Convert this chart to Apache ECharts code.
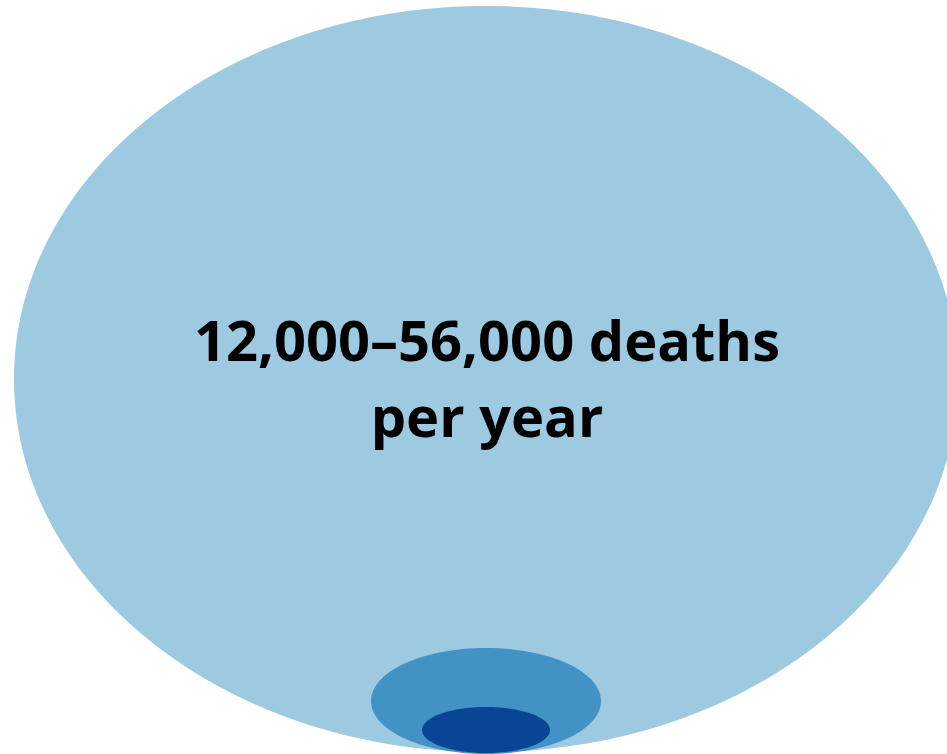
<!DOCTYPE html>
<html>
<head>
<meta charset="utf-8">
<script src="https://cdn.jsdelivr.net/npm/echarts@6/dist/echarts.min.js"></script>
<style>
  html, body { margin: 0; padding: 0; background: #ffffff; }
  #chart { width: 947px; height: 754px; }
</style>
</head>
<body>
<div id="chart"></div>
<script>
// Nested ellipses: outer range of deaths, with two smaller subsets at the bottom
const layerNames = ['all', 'middle', 'inner'];
const centerX = [486, 486, 486];
const centerY = [379, 701, 730];
const radiusX = [472, 115, 64];
const radiusY = [373, 53, 23];
const layerColors = ['#9ECAE1', '#4292C6', '#084594'];
const labelLines = ['12,000\u201356,000 deaths', 'per year'];

const chart = echarts.init(document.getElementById('chart'), null, { renderer: 'canvas' });

const data = layerNames.map((n, i) => [centerX[i], centerY[i], radiusX[i], radiusY[i], i]);

chart.setOption({
  animation: false,
  grid: { left: 0, right: 0, top: 0, bottom: 0 },
  xAxis: { type: 'value', min: 0, max: 947, show: false },
  yAxis: { type: 'value', min: 0, max: 754, inverse: true, show: false },
  series: [{
    type: 'custom',
    clip: false,
    data: data,
    renderItem: function (params, api) {
      const c = api.coord([api.value(0), api.value(1)]);
      const s = api.size([api.value(2), api.value(3)]);
      const idx = api.value(4);
      return {
        type: 'ellipse',
        shape: { cx: c[0], cy: c[1], rx: s[0], ry: s[1] },
        style: { fill: layerColors[idx] }
      };
    }
  }],
  graphic: labelLines.map((line, i) => ({
    type: 'text',
    x: 487,
    y: 345 + i * 76,
    z: 100,
    style: {
      text: line,
      fill: '#000000',
      font: 'bold 56px "Open Sans", sans-serif',
      align: 'center',
      verticalAlign: 'middle'
    }
  }))
});
</script>
</body>
</html>
